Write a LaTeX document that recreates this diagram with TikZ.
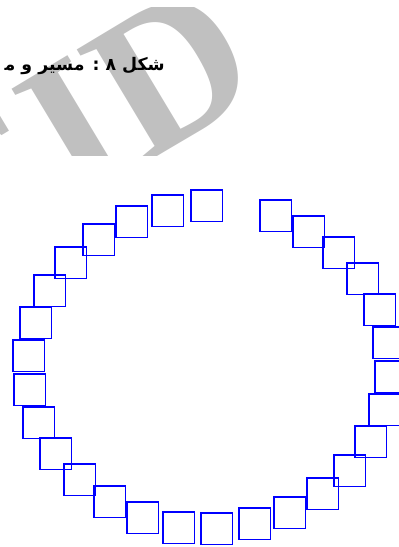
\documentclass[tikz,border=0pt]{standalone}
\usepackage{fontspec}
\TeXXeTstate=1
\newfontfamily\arabicfont[Script=Arabic]{DejaVu Sans}
\newfontfamily\wmfont{Liberation Serif}
\definecolor{wmgray}{RGB}{192,192,192}
\definecolor{sqblue}{RGB}{0,0,255}
\tikzset{
  sq/.style={draw=sqblue, line width=0.9pt, minimum size=23.6pt, inner sep=0pt, outer sep=0pt},
  wm/.style={text=wmgray, inner sep=0pt, font=\wmfont\bfseries\fontsize{152}{152}\selectfont},
  title/.style={inner sep=0pt, font=\arabicfont\bfseries\fontsize{13}{15}\selectfont}
}
\begin{document}
\begin{tikzpicture}[x=0.75pt, y=-0.75pt]
\useasboundingbox (0,0) rectangle (399,547);
\begin{scope}
  \clip (0,7) rectangle (260,155);
  \node[wm, rotate=31, anchor=base east] (wmark) at (268,90) {SID};
\end{scope}
\node[title, anchor=base east] (ttl) at (165,70) {\beginR شکل ۸ : مسیر و م\char"200D\endR};
\foreach \n/\x/\y in {1/191/190, 2/152/195, 3/116/206, 4/83/224, 5/55/247, 6/34/275,
  7/20/307, 8/13/340, 9/14/374, 10/23/407, 11/40/438, 12/64/464, 13/94/486,
  14/127/502, 15/163/512, 16/201/513, 17/239/508, 18/274/497, 19/307/478,
  20/334/455, 21/355/426, 22/369/394, 23/375/361, 24/373/327, 25/364/294,
  26/347/263, 27/323/237, 28/293/216, 29/260/200}
  \node[sq] (s\n) at (\x+15.75,\y+15.75) {};
\end{tikzpicture}
\end{document}
